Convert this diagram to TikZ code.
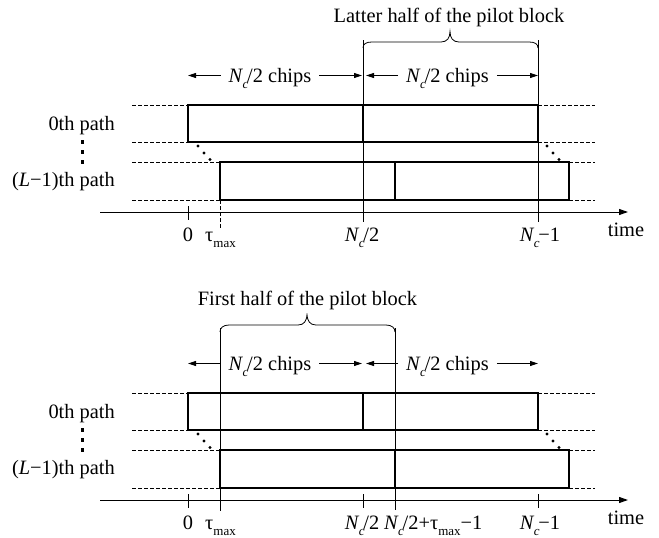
\documentclass[tikz,border=0pt]{standalone}
\usepackage{fontspec}
\setmainfont{Liberation Serif}
\usetikzlibrary{arrows.meta}

% chip-count and delay symbols set in the text font
\newcommand{\Nc}{\textit{N}\kern-0.6pt\raisebox{-0.3em}{\fontsize{13}{13}\selectfont\textit{c}}\kern-1.2pt}
\newcommand{\tmax}{τ\raisebox{-0.3em}{\fontsize{13}{13}\selectfont max}}

% rows, guides, axis and span arrows shared by both timing charts
\newcommand{\timingrows}[1]{%
  \node[txt, anchor=base east] (#1p0) at (115,130) {0th path};
  \node[txt, anchor=base east] (#1p1) at (115,186) {(\textit{L}−1)th path};
  \foreach \yy in {142,152,162} \fill (80.5,\yy-1.7) rectangle (84,\yy+1.7);
  % received copies of the pilot block
  \coordinate (#1a0) at (188,105); \coordinate (#1b0) at (538,142);
  \coordinate (#1a1) at (220,162); \coordinate (#1b1) at (569,200);
  \draw[blk] (#1a0) rectangle (#1b0);
  \draw[blk] (363,105) -- (363,142);
  \draw[blk] (#1a1) rectangle (#1b1);
  \draw[blk] (395,162) -- (395,200);
  % dashed row guides
  \draw[guide] (132,105) -- (188,105);
  \draw[guide] (132,142) -- (188,142);
  \draw[guide] (132,162) -- (220,162);
  \draw[guide] (132,200) -- (220,200);
  \draw[guide] (538,105) -- (595,105);
  \draw[guide] (538,142) -- (595,142);
  \draw[guide] (569,162) -- (595,162);
  \draw[guide] (569,200) -- (595,200);
  % diagonal dots between the paths
  \foreach \px/\py in {198/146,204/153,210/159.5,547/146,553/153,559/159.5}
    \fill (\px,\py) circle (1.6);
  % time axis
  \coordinate (#1t0) at (100,212);
  \coordinate (#1t1) at (628,212);
  \draw[axisline] (#1t0) -- (#1t1);
  \draw[rule] (188,206) -- (188,220);
  \node[txt, anchor=base] (#1zero) at (188,241) {0};
  \node[txt, anchor=base west] (#1tau) at (205,241) {\tmax};
  \node[txt, anchor=base] (#1half) at (362,241) {\Nc/2};
  \node[txt, anchor=base] (#1end) at (540,241) {\Nc−1};
  \node[txt, anchor=base] (#1time) at (626,236) {time};
  % chip-count spans
  \node[spantxt] (#1s1) at (270,75.5) {\Nc/2 chips};
  \node[spantxt] (#1s2) at (447.5,75.5) {\Nc/2 chips};
  \coordinate (#1e1) at (188,75.5);
  \coordinate (#1e2) at (362,75.5);
  \coordinate (#1e3) at (366,75.5);
  \coordinate (#1e4) at (538,75.5);
  \draw[span] (#1s1.west) -- (#1e1);
  \draw[span] (#1s1.east) -- (#1e2);
  \draw[span] (#1s2.west) -- (#1e3);
  \draw[span] (#1s2.east) -- (#1e4);
}

\begin{document}
\begin{tikzpicture}[x=1pt,y=-1pt,
  font=\fontsize{20.4}{24}\selectfont,
  blk/.style={line width=1.7pt},
  guide/.style={line width=0.7pt, dash pattern=on 3.5pt off 2.5pt},
  rule/.style={line width=0.8pt},
  axisline/.style={line width=1pt,-{Triangle[length=9pt,width=6pt]}},
  span/.style={line width=0.8pt,-{Triangle[length=8pt,width=5pt]}},
  txt/.style={inner sep=0pt},
  spantxt/.style={inner xsep=8pt, inner ysep=0pt, text height=13pt, text depth=0pt},
]
\useasboundingbox (0,0) rectangle (659,538);

% ---------- upper chart: latter half of the block ----------
\timingrows{u}
\coordinate (uv1) at (363,40);  \coordinate (uw1) at (363,222);
\coordinate (uv2) at (538,40);  \coordinate (uw2) at (538,222);
\draw[rule] (uv1) -- (uw1);
\draw[rule] (uv2) -- (uw2);
\coordinate (udt) at (220,200); \coordinate (udb) at (220,229);
\draw[guide] (udt) -- (udb);
\draw[rule] (363,48) .. controls (363,44) and (366,42) .. (372,42)
  -- (441,42) .. controls (447,42) and (450,38) .. (450,31.5)
  .. controls (450,38) and (453,42) .. (459,42)
  -- (529,42) .. controls (535,42) and (538,44) .. (538,48);
\node[txt, anchor=base] (ulab) at (449,22) {Latter half of the pilot block};

% ---------- lower chart: first half of the block ----------
\begin{scope}[shift={(0,288)}]
\timingrows{l}
\draw[rule] (363,206) -- (363,220);
\draw[rule] (538,206) -- (538,220);
\coordinate (lv1) at (220,40);  \coordinate (lw1) at (220,223);
\coordinate (lv2) at (395,40);  \coordinate (lw2) at (395,222);
\draw[rule] (lv1) -- (lw1);
\draw[rule] (lv2) -- (lw2);
\draw[rule] (220,44) .. controls (220,40) and (223,37) .. (229,37)
  -- (298,37) .. controls (304,37) and (307,33) .. (307,25.5)
  .. controls (307,33) and (310,37) .. (316,37)
  -- (386,37) .. controls (392,37) and (395,40) .. (395,44);
\node[txt, anchor=base] (llab) at (307.5,17) {First half of the pilot block};
\node[txt, anchor=base west] (lmid) at (384,241) {\Nc/2+\tmax−1};
\end{scope}
\end{tikzpicture}
\end{document}
